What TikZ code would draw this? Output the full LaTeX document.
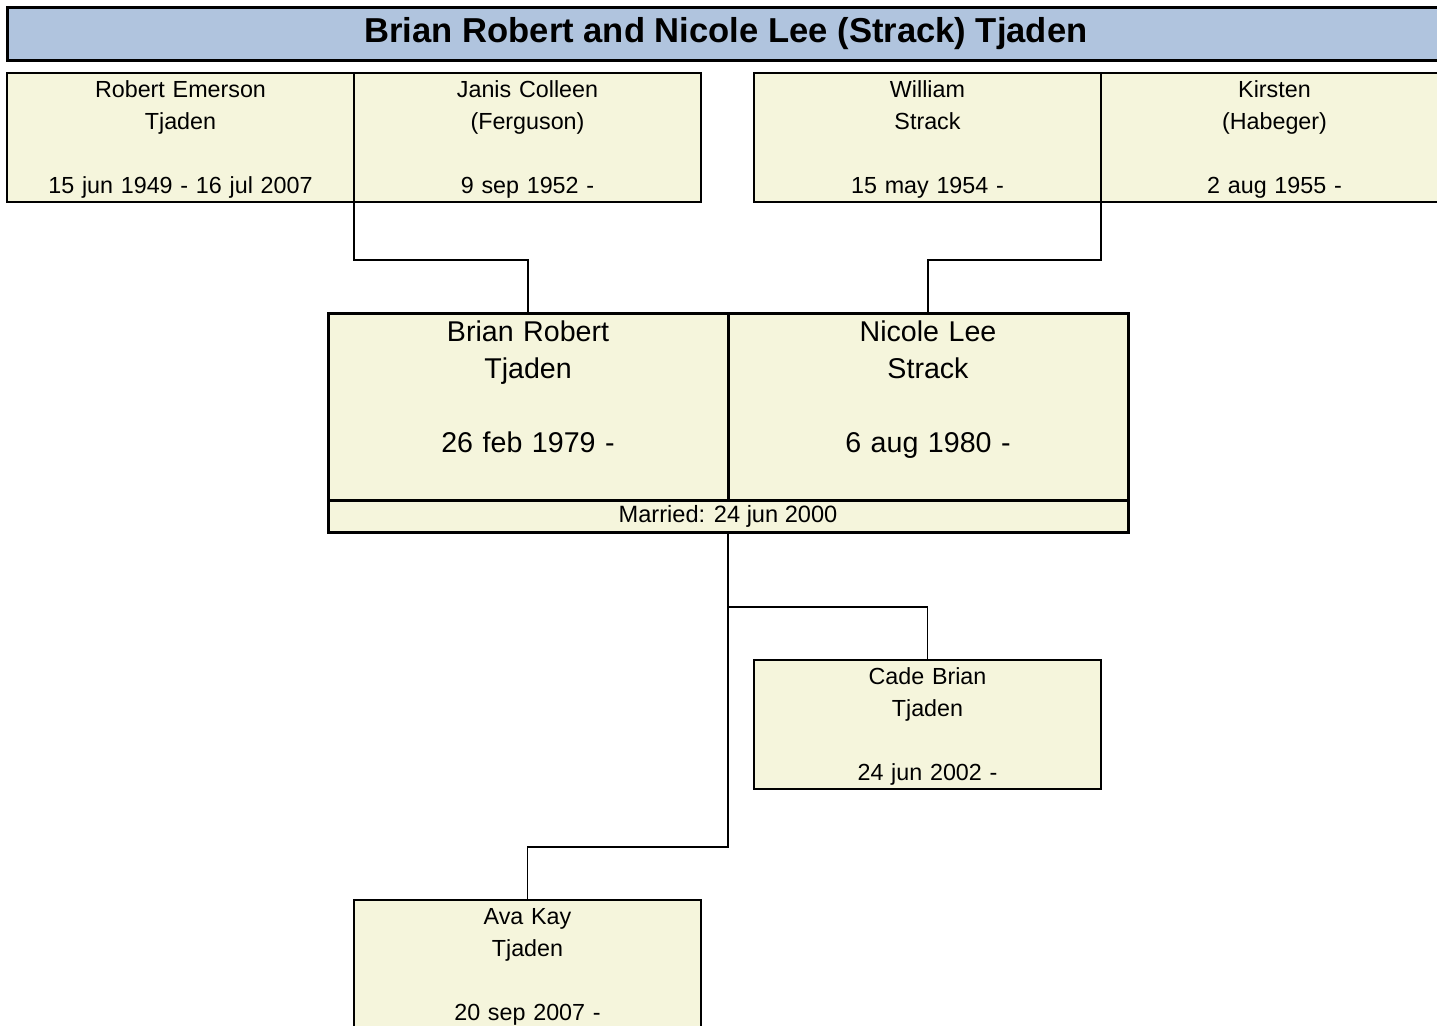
\documentclass[tikz,border=0pt]{standalone}
\usepackage{fontspec}
\setmainfont{Liberation Sans}
\usepackage{xcolor}
\usepackage{tikz}
\usetikzlibrary{positioning}
\definecolor{titlefill}{HTML}{B0C4DE}
\definecolor{boxfill}{HTML}{F5F5DC}
\newcommand{\botstrut}{\rule[-\dimexpr0.3\baselineskip-2pt\relax]{0pt}{\dimexpr\baselineskip-2pt\relax}}
\newcommand{\pers}[3]{\strut #1\\\strut #2\\\strut\\\botstrut #3}
\newcommand{\spouse}[3]{\strut #1\\\strut #2\\\strut\\\strut #3\\\botstrut}

\begin{document}
\begin{tikzpicture}[
  x=0.5pt, y=-0.5pt,
  node distance=0pt,
  every node/.style={inner sep=0pt, outer sep=0pt},
  titlebox/.style={draw, line width=1.5pt, fill=titlefill,
    minimum width=719pt, minimum height=26.5pt,
    font=\fontsize{17.3}{20}\selectfont\bfseries},
  person/.style={draw, line width=1pt, fill=boxfill, align=center,
    minimum width=173.5pt, minimum height=64.5pt, text width=173.5pt,
    font=\fontsize{11.65}{16}\selectfont},
  couple/.style={draw, line width=1.5pt, fill=boxfill, align=center,
    minimum width=200pt, minimum height=93.5pt, text width=200pt,
    font=\fontsize{14.3}{18.5}\selectfont},
  wed/.style={draw, line width=1.5pt, fill=boxfill,
    minimum width=400pt, minimum height=16pt,
    font=\fontsize{11.8}{16}\selectfont},
  link/.style={line width=0.8pt}
]
\path[use as bounding box] (0,0) rectangle (1437,1025);
\clip (0,0) rectangle (1437,1025);
\node[titlebox] (title) at (726,33.5) {Brian Robert and Nicole Lee (Strack) Tjaden};
% grandparents
\node[person] (rob) at (180.5,137.5) {\pers{Robert Emerson}{Tjaden}{15 jun 1949 - 16 jul 2007}};
\node[person, right=of rob] (janis) {\pers{Janis Colleen}{(Ferguson)}{9 sep 1952 -}};
\node[person, right=26.5pt of janis] (william) {\pers{William}{Strack}{15 may 1954 -}};
\node[person, right=of william] (kirsten) {\pers{Kirsten}{(Habeger)}{2 aug 1955 -}};
% couple
\node[couple] (brian) at (528,406.5) {\spouse{Brian Robert}{Tjaden}{26 feb 1979 -}};
\node[couple, right=of brian] (nicole) {\spouse{Nicole Lee}{Strack}{6 aug 1980 -}};
\node[wed, below=of brian.south east] (married) {Married: 24 jun 2000};
% children
\node[person] (cade) at (927.5,724) {\pers{Cade Brian}{Tjaden}{24 jun 2002 -}};
\node[person] (ava) at (527.5,964.5) {\pers{Ava Kay}{Tjaden}{20 sep 2007 -}};
\draw[link] (rob.south east) -- ++(0,58) -| (brian.north);
\draw[link] (kirsten.south west) -- ++(0,58) -| (nicole.north);
\draw[link] (married.south) -- ++(0,75) -| (cade.north);
\draw[link] (married.south) -- ++(0,315) -| (ava.north);
\end{tikzpicture}
\end{document}
